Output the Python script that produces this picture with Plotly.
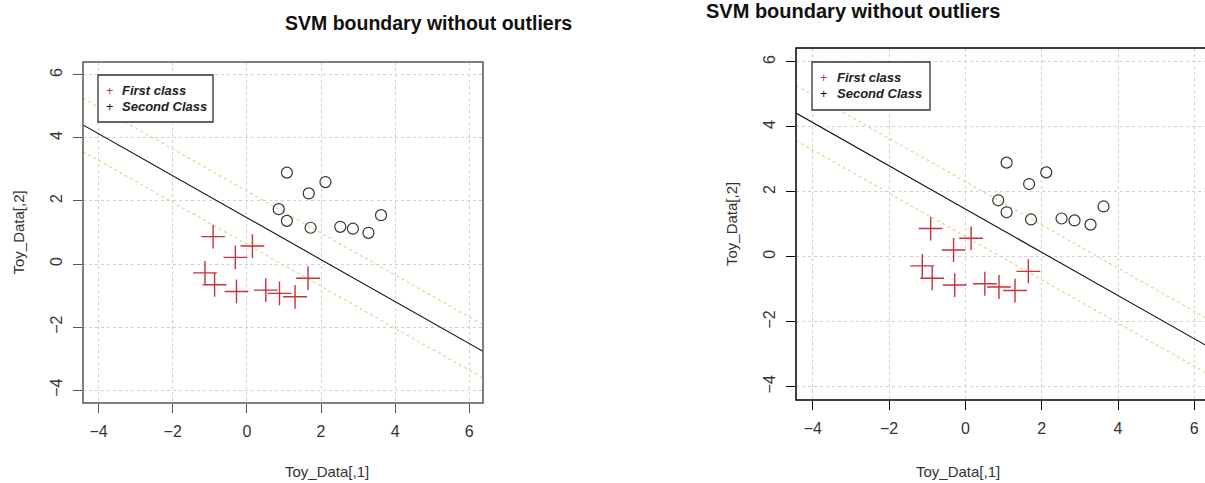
import plotly.graph_objects as go

# ---- data ----
first_x = [-0.91, 0.15, -0.31, -1.13, -0.87, -0.28, 0.51, 0.88, 1.30, 1.65]
first_y = [0.87, 0.57, 0.21, -0.28, -0.66, -0.87, -0.83, -0.93, -1.04, -0.45]
second_x = [1.08, 2.12, 1.67, 0.86, 1.08, 1.72, 2.52, 2.86, 3.28, 3.62]
second_y = [2.90, 2.60, 2.24, 1.74, 1.37, 1.15, 1.18, 1.12, 0.99, 1.55]
boundary_intercept = 1.47
boundary_slope = -0.666
margin_offset = 0.845
tick_vals = [-4, -2, 0, 2, 4, 6]
title_text = "SVM boundary without outliers"
xlabel = "Toy_Data[,1]"
ylabel = "Toy_Data[,2]"
legend_labels = ["First class", "Second Class"]
legend_colors = ["#c8323a", "#111111"]

SW, SH = 1205, 483


def px(sx):
    return sx / SW


def py(sy):
    return 1 - sy / SH


panels = [
    dict(px0=83, px1=483, py0=62, py1=403, xr=[-4.42, 6.37], yr=[-4.41, 6.41],
         frame="#555555", suffix="", cx=283, title_y=23, title_size=19.5,
         xlab_y=471, ylab_x=18,
         leg_box=(98, 75, 213, 122), leg_plus_x=109, leg_text_x=121, leg_rows=(91, 106),
         clip_right=False),
    dict(px0=796, px1=1205, py0=48, py1=400, xr=[-4.44, 6.28], yr=[-4.41, 6.43],
         frame="#000000", suffix="2", cx=1002, title_y=11, title_size=20,
         xlab_y=471, ylab_x=731,
         leg_box=(812, 62, 930, 110), leg_plus_x=823, leg_text_x=836, leg_rows=(78, 94),
         clip_right=True),
]

fig = go.Figure()
layout = dict(width=SW, height=SH, margin=dict(l=0, r=0, t=0, b=0),
              paper_bgcolor="white", plot_bgcolor="white", showlegend=False,
              font=dict(family="Liberation Sans, Arial", color="#333333"))
shapes = []
annotations = []

red = legend_colors[0]
for p in panels:
    s = p["suffix"]
    xa, ya = "x" + s, "y" + s
    xs = p["xr"]
    for off, col, dash, wd in [(margin_offset, "#e0d68c", "dot", 1.2),
                               (-margin_offset, "#e0d68c", "dot", 1.2),
                               (0, "#111111", "solid", 1.1)]:
        fig.add_trace(go.Scatter(
            x=xs, y=[boundary_intercept + off + boundary_slope * v for v in xs],
            mode="lines", line=dict(color=col, dash=dash, width=wd),
            xaxis=xa, yaxis=ya, hoverinfo="skip"))
    fig.add_trace(go.Scatter(
        x=second_x, y=second_y, mode="markers", xaxis=xa, yaxis=ya, name=legend_labels[1],
        marker=dict(symbol="circle-open", size=11, color="#333333", line=dict(width=1.2))))
    fig.add_trace(go.Scatter(
        x=first_x, y=first_y, mode="markers", xaxis=xa, yaxis=ya, name=legend_labels[0],
        marker=dict(symbol="cross-thin", size=17, color=red, line=dict(width=1.4, color=red))))

    dom_x = [px(p["px0"]), min(1.0, px(p["px1"]))]
    dom_y = [py(p["py1"]), py(p["py0"])]
    common = dict(tickvals=tick_vals, ticks="outside", ticklen=9, tickcolor=p["frame"],
                  showgrid=True, gridcolor="#d0d0d0", griddash="dot", gridwidth=1,
                  zeroline=False, showline=False,
                  tickfont=dict(size=16, color="#333333"), ticklabelstandoff=5)
    layout["xaxis" + s] = dict(domain=dom_x, range=p["xr"], anchor=ya, **common)
    layout["yaxis" + s] = dict(domain=dom_y, range=p["yr"], anchor=xa, tickangle=-90, **common)

    x1 = px(p["px1"]) + (0.01 if p["clip_right"] else 0)
    shapes.append(dict(type="rect", xref="paper", yref="paper",
                       x0=px(p["px0"]), x1=x1, y0=dom_y[0], y1=dom_y[1],
                       line=dict(color=p["frame"], width=1.5), layer="above"))
    bx0, by0, bx1, by1 = p["leg_box"]
    shapes.append(dict(type="rect", xref="paper", yref="paper",
                       x0=px(bx0), x1=px(bx1), y0=py(by1), y1=py(by0),
                       line=dict(color="#333333", width=1.3), fillcolor="white",
                       layer="above"))
    r0, r1 = p["leg_rows"]
    plus_text = "<br>".join(f"<span style='color:{c}'>+</span>" for c in legend_colors)
    annotations.append(dict(text=plus_text, x=px(p["leg_plus_x"]), y=py((r0 + r1) / 2),
                            xref="paper", yref="paper", showarrow=False,
                            xanchor="center", yanchor="middle", borderpad=0,
                            font=dict(size=12.5)))
    for lab, ry in zip(legend_labels, p["leg_rows"]):
        annotations.append(dict(text=f"<b><i>{lab}</i></b>", x=px(p["leg_text_x"]), y=py(ry),
                                xref="paper", yref="paper", showarrow=False,
                                xanchor="left", yanchor="middle", height=13, borderpad=0,
                                font=dict(size=13, color="#222222")))

    annotations.append(dict(text=f"<b>{title_text}</b>", x=px(p["cx"]), y=py(p["title_y"]),
                            xref="paper", yref="paper", showarrow=False,
                            font=dict(size=p["title_size"], color="#111111"),
                            yanchor="middle"))
    annotations.append(dict(text=xlabel, x=px(p["cx"]), y=py(p["xlab_y"]),
                            xref="paper", yref="paper", showarrow=False,
                            font=dict(size=15, color="#333333"), yanchor="middle"))
    annotations.append(dict(text=ylabel, x=px(p["ylab_x"]),
                            y=py((p["py0"] + p["py1"]) / 2),
                            xref="paper", yref="paper", showarrow=False, textangle=-90,
                            font=dict(size=15, color="#333333"), xanchor="center"))

layout["shapes"] = shapes
layout["annotations"] = annotations
fig.update_layout(**layout)
fig.write_html("out.html", config={"displayModeBar": False},
               post_script="document.body.style.margin='0';document.body.style.overflow='hidden';")
